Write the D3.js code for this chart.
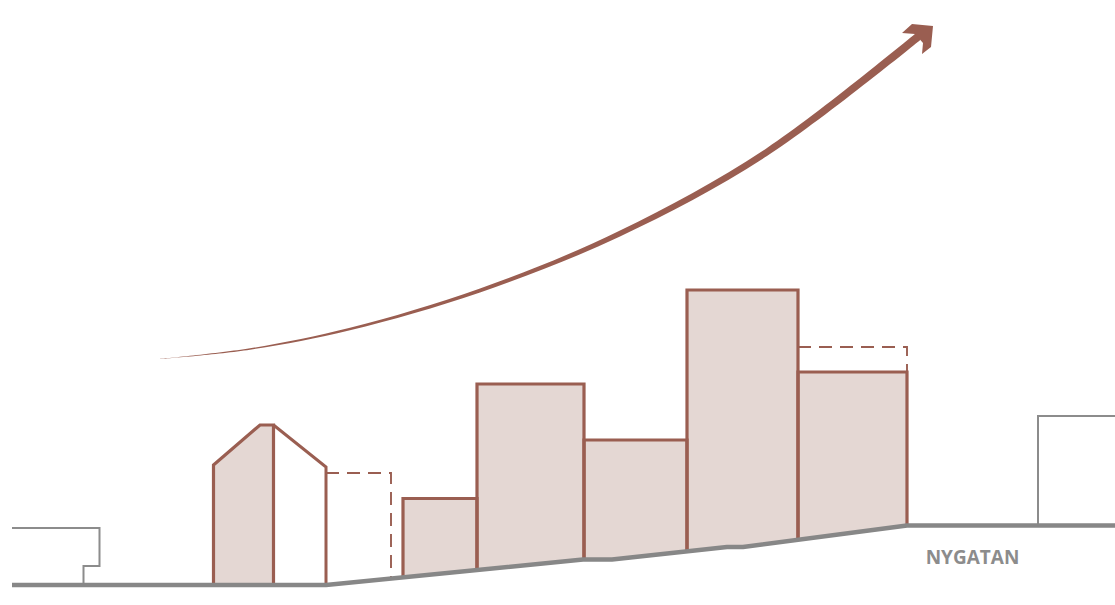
<!DOCTYPE html>
<html><head><meta charset="utf-8">
<script src="https://cdn.jsdelivr.net/npm/d3@7/dist/d3.min.js"></script>
<style>html,body{margin:0;padding:0;background:#fff;overflow:hidden}svg{display:block}</style>
</head><body><svg id="c" width="1115" height="605"></svg>
<script>
// Ground profile (distance along section, elevation above the lower street)
const groundDist = [12, 326, 583, 612, 727, 743, 907, 1115];
const groundElev = [0, 0, 25.5, 25.5, 38, 38, 59.5, 59.5];
// Filled blocks: left edge, right edge, top elevation
const blockLeft  = [403, 477, 584, 687, 798];
const blockRight = [477, 584, 687, 798, 907];
const blockTop   = [86.5, 201, 145, 295, 213];
// House profile
const houseLeftDist  = [213.5, 213.5, 260, 273.5, 273.5];
const houseLeftElev  = [0, 120, 160, 160, 0];
const houseRightDist = [273.5, 326, 326];
const houseRightElev = [160, 118, 0];
// Potential extensions (dashed)
const dashA_Dist = [326, 391, 391];
const dashA_Elev = [112, 112, 8];
const dashB_Dist = [798, 907, 907];
const dashB_Elev = [238, 238, 213];
// Neighbouring buildings
const neighbourA_Dist = [12, 99.5, 99.5, 83.5, 83.5];
const neighbourA_Elev = [57, 57, 19, 19, 0];
const neighbourB_Dist = [1115, 1038, 1038];
const neighbourB_Elev = [169, 169, 60];
// Growth arrow: centre line and thickness
const arrowDist  = [160, 250, 350, 480, 620, 767, 920];
const arrowElev  = [226, 236, 256, 294.5, 351.5, 433, 550];
const arrowThick = [0.1, 1.4, 2.4, 3.8, 6, 8.2, 10.5];
const headDist = [933, 912, 902, 915, 923, 922, 931];
const headElev = [559, 561, 552, 551, 542, 531, 538];
const streetLabel = "NYGATAN";
const labelDist = 972.5, labelElev = 21;

const brown = "#9a5e51", fillC = "#e4d7d3", gray = "#878787";
const x = d3.scaleLinear().domain([0, 1115]).range([0, 1115]);
const y = d3.scaleLinear().domain([0, 585]).range([585, 0]);
const svg = d3.select("#c");
const groundAt = d3.scaleLinear().domain(groundDist).range(groundElev);
const line = d3.line().x(d => x(d[0])).y(d => y(d[1]));
const pts = (a, b) => a.map((v, i) => [v, b[i]]);

function blockPoly(i) {
  const l = blockLeft[i], r = blockRight[i], t = blockTop[i];
  const inner = groundDist.filter(g => g > l && g < r).reverse();
  return [[l, t], [r, t], [r, groundAt(r)], ...inner.map(g => [g, groundAt(g)]), [l, groundAt(l)]];
}

// fills
svg.append("path").attr("d", line(pts(houseLeftDist, houseLeftElev)) + "Z").attr("fill", fillC);
blockLeft.forEach((_, i) => svg.append("path").attr("d", line(blockPoly(i)) + "Z").attr("fill", fillC));

// neighbours
[[neighbourA_Dist, neighbourA_Elev], [neighbourB_Dist, neighbourB_Elev]].forEach(([a, b]) =>
  svg.append("path").attr("d", line(pts(a, b))).attr("fill", "none").attr("stroke", "#8c8c8c").attr("stroke-width", 2));

// dashed
[[dashA_Dist, dashA_Elev], [dashB_Dist, dashB_Elev]].forEach(([a, b]) =>
  svg.append("path").attr("d", line(pts(a, b))).attr("fill", "none").attr("stroke", brown)
    .attr("stroke-width", 1.9).attr("stroke-dasharray", "13 8"));

// outlines
const outline = (p, w) => svg.append("path").attr("d", line(p)).attr("fill", "none")
  .attr("stroke", brown).attr("stroke-width", w).attr("stroke-linejoin", "miter");
outline(pts(houseLeftDist, houseLeftElev), 3.2);
outline(pts(houseRightDist, houseRightElev), 3);
blockLeft.forEach((l, i) => {
  const r = blockRight[i], t = blockTop[i];
  outline([[l, groundAt(l)], [l, t], [r, t], [r, groundAt(r)]], 3.2);
});

// ground
svg.append("path").attr("d", line(pts(groundDist, groundElev))).attr("fill", "none")
  .attr("stroke", gray).attr("stroke-width", 4.4).attr("stroke-linejoin", "round");

// arrow
const area = d3.area().curve(d3.curveCatmullRom)
  .x(i => x(arrowDist[i]))
  .y0(i => y(arrowElev[i]) - arrowThick[i] / 2)
  .y1(i => y(arrowElev[i]) + arrowThick[i] / 2);
svg.append("path").attr("d", area(d3.range(arrowDist.length))).attr("fill", brown);
svg.append("path").attr("d", line(pts(headDist, headElev)) + "Z").attr("fill", brown);

// label
svg.append("text").attr("x", x(labelDist)).attr("y", y(labelElev)).attr("text-anchor", "middle")
  .attr("font-family", "'Open Sans'").attr("font-weight", 700).attr("font-size", 19)
  .attr("fill", "#8c8c8c").text(streetLabel);
</script></body></html>
